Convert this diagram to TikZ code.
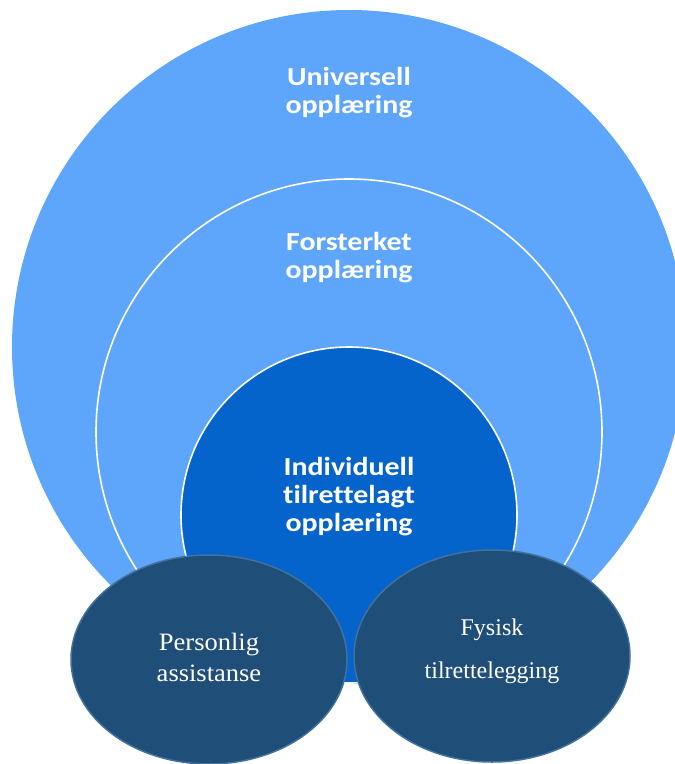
\documentclass[tikz,border=0pt]{standalone}
\usepackage{fontspec}
\setmainfont{Liberation Serif}
\newfontfamily\widesansbold[FakeStretch=1.15,Ligatures={NoCommon}]{Carlito}
\newfontfamily\wideserif[FakeStretch=1.06]{Liberation Serif}
\usetikzlibrary{shapes.geometric}
\definecolor{lightblue}{RGB}{94,166,252}
\definecolor{midblue}{RGB}{4,100,204}
\definecolor{darkblue}{RGB}{31,78,121}
\definecolor{edgeblue}{RGB}{65,113,156}
\tikzset{
    ring/.style={circle, fill=lightblue, draw=white, line width=1.6pt, inner sep=0pt},
    core/.style={circle, fill=midblue, draw=white, line width=1.6pt, inner sep=0pt},
    support/.style={ellipse, fill=darkblue, draw=edgeblue, line width=1.5pt, inner sep=0pt},
    supporttext/.style={text=white, align=center, font=\fontsize{25}{31}\selectfont},
    level/.style={text=white, align=center, font=\widesansbold\bfseries\fontsize{26}{28}\selectfont},
}

\begin{document}
\begin{tikzpicture}[x=1pt,y=-1pt]
\useasboundingbox (0,0) rectangle (675,764);
\clip (0,0) rectangle (675,764);
%CIRCLES
\node [ring, draw=none, minimum size=674pt] (universell) at (349,347) {};
\node [ring, minimum size=506pt] (forsterket) at (349,432) {};
\node [core, minimum size=336pt] (individuell) at (349,515) {};

%CIRCLE TEXTS
\node [level] (universelltext) at (349,92.5) {Universell\\opplæring};
\node [level] (forsterkettext) at (349,257.5) {Forsterket\\opplæring};
\node [level] (individuelltext) at (349,496.5) {Individuell\\tilrettelagt\\opplæring};

%ELLIPSES
\node [support, minimum width=276pt, minimum height=209pt] (personlig) at (209,659.5) {};
	\node [supporttext, font=\wideserif\fontsize{25}{31}\selectfont] (personligtext) at ([yshift=2pt]personlig.center) {Personlig\\assistanse};
\node [support, minimum width=276pt, minimum height=212pt] (fysisk) at (492,656) {};
	\node [supporttext, font=\fontsize{24}{31}\selectfont] (fysisktext) at ([yshift=5pt]fysisk.center) {Fysisk\\[12pt]tilrettelegging};
\end{tikzpicture}
\end{document}
